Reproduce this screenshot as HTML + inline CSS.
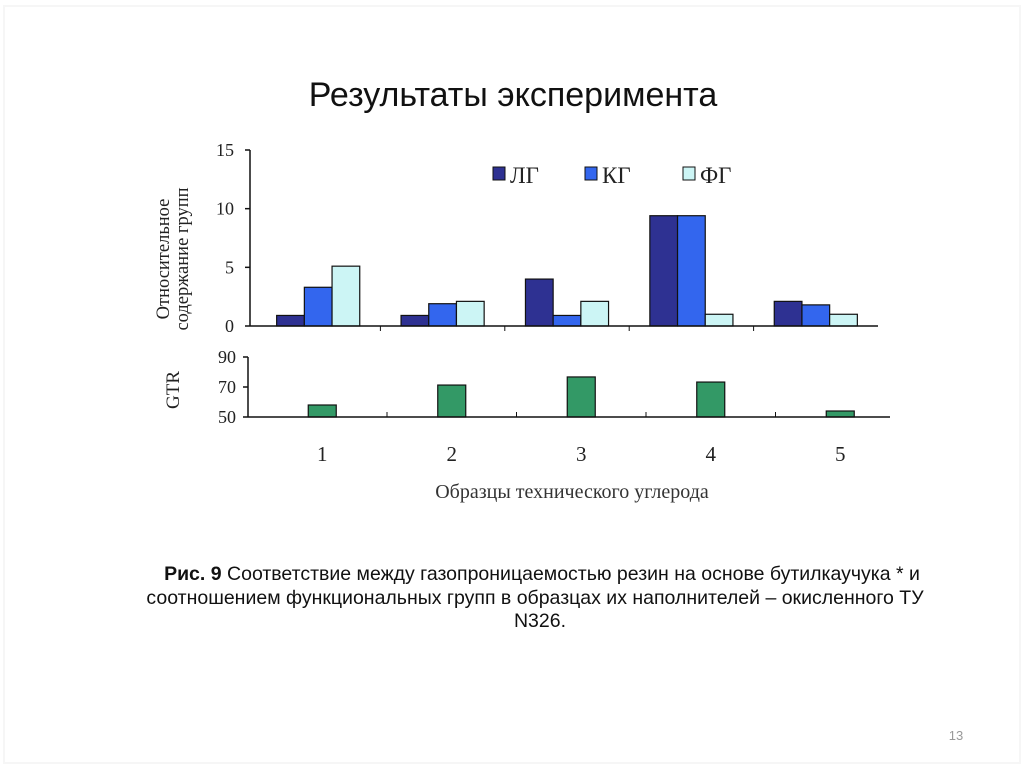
<!DOCTYPE html>
<html><head><meta charset="utf-8"><style>
body{margin:0;background:#fff;}
svg{display:block;}
</style></head><body>
<svg width="1024" height="767" viewBox="0 0 1024 767" xmlns="http://www.w3.org/2000/svg">
<rect x="4" y="6" width="1016" height="757" fill="none" stroke="#f6f6f6" stroke-width="2"/>
<text x="513" y="106" text-anchor="middle" font-family="Liberation Sans, sans-serif" font-size="34" fill="#111">Результаты эксперимента</text>
<g id="topchart"></g>
<g id="botchart"></g>
<g font-family="Liberation Serif, serif" font-size="18.5" fill="#222">
<text transform="translate(169,259) rotate(-90)" text-anchor="middle">Относительное</text>
<text transform="translate(188,259) rotate(-90)" text-anchor="middle">содержание групп</text>
</g>
<text transform="translate(179,390) rotate(-90)" text-anchor="middle" font-family="Liberation Serif, serif" font-size="19" fill="#222">GTR</text>
<text x="572" y="498" text-anchor="middle" font-family="Liberation Serif, serif" font-size="20" fill="#333">Образцы технического углерода</text>
<g font-family="Liberation Sans, sans-serif" font-size="19.5" fill="#111" text-anchor="middle">
<text x="542" y="580"><tspan font-weight="bold">Рис. 9</tspan> Соответствие между газопроницаемостью резин на основе бутилкаучука * и</text>
<text x="535" y="604">соотношением функциональных групп в образцах их наполнителей – окисленного ТУ</text>
<text x="540" y="627">N326.</text>
</g>
<text x="956" y="740" text-anchor="middle" font-family="Liberation Sans, sans-serif" font-size="13" fill="#999">13</text>
</svg>
<script>
const categories=["1","2","3","4","5"];
const seriesNames=["ЛГ","КГ","ФГ"];
const lgValues=[0.9,0.9,4.0,9.4,2.1];
const kgValues=[3.3,1.9,0.9,9.4,1.8];
const fgValues=[5.1,2.1,2.1,1.0,1.0];
const gtrValues=[58,71.3,76.7,73.3,54];
const topTicks=[0,5,10,15];
const gtrTicks=[50,70,90];
const NS="http://www.w3.org/2000/svg";
function mk(t,a,p){const e=document.createElementNS(NS,t);for(const k in a)e.setAttribute(k,a[k]);p.appendChild(e);return e;}
const topG=document.getElementById('topchart'), botG=document.getElementById('botchart');
const tx0=256, tcw=124.4, ty0=326, tyk=176/15;
const ty=v=>ty0-v*tyk;
const tx=i=>tx0+tcw*(i+0.5);
const colors=["#2e3192","#3366ee","#ccf5f5"];
const series=[lgValues,kgValues,fgValues];
const bw=27.7;
series.forEach((vals,s)=>{vals.forEach((v,i)=>{
 const r=mk('rect',{x:tx(i)+(s-1.5)*bw,y:ty(v),width:bw,height:ty0-ty(v),fill:colors[s],stroke:"#111","stroke-width":1.2},topG);
 
 
});});
let l=mk('line',{x1:250,y1:150,x2:250,y2:326,stroke:"#111","stroke-width":1.5},topG);


l=mk('line',{x1:250,y1:326,x2:878,y2:326,stroke:"#111","stroke-width":1.5},topG);


topTicks.forEach(v=>{
 mk('line',{x1:245,y1:ty(v),x2:250,y2:ty(v),stroke:"#111","stroke-width":1.5},topG);
 const t=mk('text',{x:234,y:ty(v)+6,"text-anchor":"end","font-family":"Liberation Serif, serif","font-size":18,fill:"#222"},topG);
 t.textContent=v;
 
 
});
for(let i=1;i<categories.length;i++)mk('line',{x1:tx0+tcw*i,y1:326,x2:tx0+tcw*i,y2:331,stroke:"#111"},topG);
const lx=[493,585,683];
seriesNames.forEach((n,s)=>{
 const g=mk('g',{},topG);
 
 
 mk('rect',{x:lx[s],y:167,width:12,height:13,fill:colors[s],stroke:"#111"},g);
 const t=mk('text',{x:lx[s]+17,y:183,"font-family":"Liberation Serif, serif","font-size":23,fill:"#222"},g);
 t.textContent=n;
});
const bx0=257.5, bcw=129.5, by0=417, byk=60/40;
const by=v=>by0-(v-50)*byk;
const bx=i=>bx0+bcw*(i+0.5);
gtrValues.forEach((v,i)=>{
 const r=mk('rect',{x:bx(i)-14,y:by(v),width:28,height:by0-by(v),fill:"#339966",stroke:"#111","stroke-width":1.2},botG);
 
 
 const t=mk('text',{x:bx(i),y:461,"text-anchor":"middle","font-family":"Liberation Serif, serif","font-size":21,fill:"#222"},botG);
 t.textContent=categories[i];
 
 
});
l=mk('line',{x1:248,y1:357,x2:248,y2:417,stroke:"#111","stroke-width":1.5},botG);


l=mk('line',{x1:248,y1:417,x2:890,y2:417,stroke:"#111","stroke-width":1.5},botG);


gtrTicks.forEach(v=>{
 mk('line',{x1:243,y1:by(v),x2:248,y2:by(v),stroke:"#111","stroke-width":1.5},botG);
 const t=mk('text',{x:236,y:by(v)+6,"text-anchor":"end","font-family":"Liberation Serif, serif","font-size":18,fill:"#222"},botG);
 t.textContent=v;
 
 
});
for(let i=1;i<categories.length;i++)mk('line',{x1:bx0+bcw*i,y1:412,x2:bx0+bcw*i,y2:417,stroke:"#111"},botG);
</script>
</body></html>
